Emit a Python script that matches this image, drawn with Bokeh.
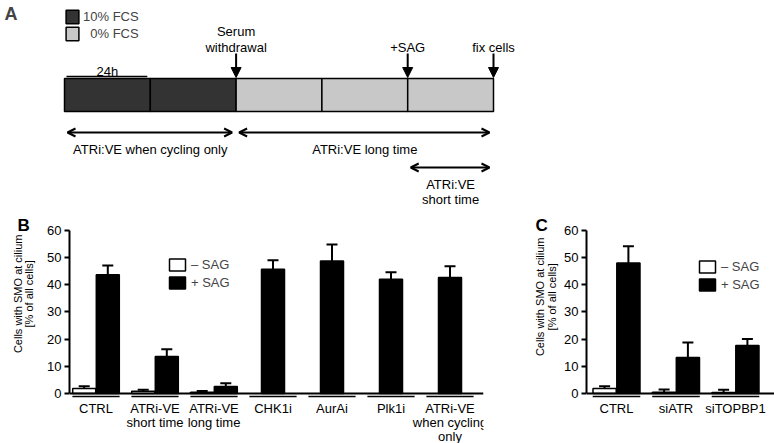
import numpy as np
from bokeh.plotting import figure
from bokeh.layouts import column, row
from bokeh.models import (Range1d, ColumnDataSource, Whisker, TeeHead, Arrow, NormalHead,
                          OpenHead, Label, Span, FixedTicker, Legend, LegendItem)
from bokeh.embed import file_html
from bokeh.resources import INLINE
from bokeh.core.properties import value

FONT = "Liberation Sans"

# ---------------- data: panel A (timeline, hours) ----------------
phase_labels = ["10% FCS", "10% FCS", "0% FCS", "0% FCS", "0% FCS"]
phase_hours = [24, 24, 24, 24, 24]
phase_colors = {"10% FCS": "#333333", "0% FCS": "#c8c8c8"}
event_labels = ["Serum\nwithdrawal", "+SAG", "fix cells"]
event_hours = [48, 96, 120]
window_labels = ["ATRi:VE when cycling only", "ATRi:VE long time", "ATRi:VE\nshort time"]
window_start = [0, 48, 96]
window_end = [48, 120, 120]
scale_label = "24h"
scale_hours = 24

# ---------------- data: panel B ----------------
groups_B = ["CTRL", "ATRi-VE\nshort time", "ATRi-VE\nlong time", "CHK1i", "AurAi", "Plk1i",
            "ATRi-VE\nwhen cycling\nonly"]
minus_B = [1.8, 0.8, 0.5, None, None, None, None]
minus_err_B = [0.9, 0.6, 0.4, None, None, None, None]
plus_B = [43.6, 13.6, 2.6, 45.6, 48.6, 41.9, 42.6]
plus_err_B = [3.4, 2.6, 1.2, 3.3, 6.1, 2.6, 4.1]

# ---------------- data: panel C ----------------
groups_C = ["CTRL", "siATR", "siTOPBP1"]
minus_C = [1.8, 0.5, 0.4]
minus_err_C = [0.9, 1.0, 1.0]
plus_C = [47.9, 13.2, 17.6]
plus_err_C = [6.1, 5.5, 2.4]

y_ticks = [0, 10, 20, 30, 40, 50, 60]
legend_labels = ["\u2013 SAG", "+ SAG"]
y_label_lines = ["Cells with SMO at cilium", "[% of all cells]"]


def style_blank(p):
    p.grid.visible = False
    p.outline_line_color = None
    p.background_fill_color = "white"
    p.border_fill_color = "white"


# ================= Panel A =================
W = 774
HA = 213
PX_H = 3.575      # px per hour
XA0 = 64          # px where the timeline starts
pA = figure(width=W, height=HA, title=None, output_backend="svg", toolbar_location=None,
            x_range=Range1d(-XA0 / PX_H, (W - XA0) / PX_H), y_range=Range1d(HA, 0),
            x_axis_location=None, y_axis_location=None, min_border=0)
style_blank(pA)

BAR_TOP, BAR_BOT = 78, 111
lefts = np.concatenate([[0], np.cumsum(phase_hours)[:-1]])
rights = lefts + np.array(phase_hours)
srcP = ColumnDataSource(dict(left=lefts, right=rights, phase=phase_labels,
                             color=[phase_colors[k] for k in phase_labels]))
rA = pA.quad(left="left", right="right", top=BAR_TOP, bottom=BAR_BOT, fill_color="color",
             line_color="black", line_width=1.5, source=srcP)

# legend: one entry per phase, numbers right-aligned with figure spaces
legend_names = list(dict.fromkeys(phase_labels))
num_len = max(len(nm.split("%")[0]) for nm in legend_names)
items = [LegendItem(label="\u2007" * (num_len - len(nm.split("%")[0])) + nm,
                    renderers=[rA], index=phase_labels.index(nm)) for nm in legend_names]
legA = Legend(items=items, location=(XA0, HA - 42), padding=0, margin=0, spacing=0,
              glyph_width=16, glyph_height=17, label_height=17, label_standoff=3,
              label_text_font=FONT, label_text_font_size="13px",
              border_line_color=None, background_fill_alpha=0)
pA.add_layout(legA)

# 24h scale bar
pA.segment(x0=[2 / PX_H], x1=[scale_hours - 3 / PX_H], y0=[76], y1=[76],
           line_color="black", line_width=1.5)
pA.text(x=[scale_hours / 2], y=[71], text=[scale_label], text_align="center",
        text_baseline="alphabetic", text_font=value(FONT), text_font_size="13px")

# events
srcE = ColumnDataSource(dict(x=event_hours, label=event_labels))
pA.add_layout(Arrow(end=NormalHead(size=10, fill_color="black", line_color="black", line_width=1),
                    x_start="x", y_start=53, x_end="x", y_end=77,
                    line_width=2, line_color="black", source=srcE))
pA.text(x="x", y=54, text="label", source=srcE, text_align="center", text_baseline="bottom",
        text_font=value(FONT), text_font_size="13px", text_line_height=1.05)

# treatment windows: greedy row assignment
rows = []
win_row = []
for s, e in zip(window_start, window_end):
    r = 0
    while r < len(rows) and any(s < e2 and s2 < e for s2, e2 in rows[r]):
        r += 1
    if r == len(rows):
        rows.append([])
    rows[r].append((s, e))
    win_row.append(r)
ROW_Y0, ROW_DY = 132, 35
win_y = [ROW_Y0 + ROW_DY * r for r in win_row]
srcW = ColumnDataSource(dict(xs=[s + 3 / PX_H for s in window_start],
                             xe=[e - 4 / PX_H for e in window_end],
                             y=win_y, ty=[y + 9 for y in win_y],
                             xm=[(s + e) / 2 for s, e in zip(window_start, window_end)],
                             label=window_labels))
pA.add_layout(Arrow(start=OpenHead(size=8, line_width=2, line_color="black"),
                    end=OpenHead(size=8, line_width=2, line_color="black"),
                    x_start="xs", y_start="y", x_end="xe", y_end="y",
                    line_width=2, line_color="black", source=srcW))
pA.text(x="xm", y="ty", text="label", source=srcW, text_align="center", text_baseline="top",
        text_font=value(FONT), text_font_size="13px", text_line_height=1.0)

pA.add_layout(Label(x=4, y=HA - 3, x_units="screen", y_units="screen", text="A",
                    text_font=FONT, text_font_style="bold", text_font_size="18px",
                    text_baseline="top", text_align="left"))

# ================= Panels B and C =================
PX_U = 2.725      # px per % unit
HBC = 443 - HA
ZERO_Y = 180      # px from top of B/C figures to y = 0
FTOP = 2
DODGE = 0.2
BAR_W = 0.39


def label_fig(width, letter, letter_x, ylab_x, ylab_y):
    p = figure(width=width, height=HBC, title=None, output_backend="svg", toolbar_location=None,
               x_range=Range1d(0, width), y_range=Range1d(HBC, 0),
               x_axis_location=None, y_axis_location=None, min_border=0)
    style_blank(p)
    p.text(x=[letter_x], y=[1], text=[letter], text_align="left", text_baseline="top",
           text_font=value(FONT), text_font_style="bold", text_font_size="17px")
    p.text(x=ylab_x, y=[ylab_y] * len(ylab_x), text=y_label_lines, angle=np.pi / 2,
           text_align="center", text_baseline="middle", text_font=value(FONT),
           text_font_size="11px")
    return p


def bar_panel(groups, minus, minus_err, plus, plus_err, width, fl, fr, group_px,
              first_center_px, legend_xy):
    frame_w = width - fl - fr
    xs = -first_center_px / group_px
    xe = xs + frame_w / group_px
    ye = (ZERO_Y - FTOP) / PX_U
    ys = ye - (HBC - FTOP) / PX_U
    p = figure(width=width, height=HBC, title=None, output_backend="svg", toolbar_location=None,
               x_range=Range1d(xs, xe), y_range=Range1d(ys, ye),
               x_axis_location=None, y_axis_location="left",
               min_border_left=fl, min_border_right=fr, min_border_top=FTOP, min_border_bottom=0)
    style_blank(p)
    ax = p.yaxis[0]
    ax.ticker = FixedTicker(ticks=y_ticks)
    ax.bounds = (min(y_ticks), max(y_ticks))
    ax.axis_line_width = 2
    ax.axis_line_color = "black"
    ax.major_tick_line_width = 2
    ax.major_tick_line_color = "black"
    ax.major_tick_in = 0
    ax.major_tick_out = 5
    ax.minor_tick_line_color = None
    ax.major_label_text_font = FONT
    ax.major_label_text_font_size = "13px"
    ax.major_label_text_color = "black"
    ax.major_label_standoff = 3

    n = len(groups)
    idx_m = [i for i in range(n) if minus[i] is not None]
    src_m = ColumnDataSource(dict(x=[i - DODGE for i in idx_m],
                                  top=[minus[i] for i in idx_m],
                                  upper=[minus[i] + minus_err[i] for i in idx_m]))
    src_p = ColumnDataSource(dict(x=[i + DODGE if minus[i] is not None else i for i in range(n)],
                                  top=plus,
                                  upper=[a + b for a, b in zip(plus, plus_err)]))
    for src in (src_m, src_p):
        p.add_layout(Whisker(base="x", lower="top", upper="upper", source=src, dimension="height",
                             line_width=2, line_color="black", lower_head=None,
                             upper_head=TeeHead(size=11, line_width=2, line_color="black")))
    p.vbar(x="x", top="top", bottom=0, width=BAR_W, fill_color="white", line_color="black",
           line_width=1.5, source=src_m, legend_label=legend_labels[0])
    p.vbar(x="x", top="top", bottom=0, width=BAR_W, fill_color="black", line_color="black",
           line_width=1.5, source=src_p, legend_label=legend_labels[1])

    p.add_layout(Span(location=0, dimension="width", line_color="black", line_width=2))
    uy = -3 / PX_U
    p.segment(x0=[i - 0.4 for i in range(n)], x1=[i + 0.4 for i in range(n)],
              y0=[uy] * n, y1=[uy] * n, line_color="black", line_width=1.5)
    p.text(x=list(range(n)), y=[-7 / PX_U] * n, text=groups, text_align="center",
           text_baseline="top", text_font=value(FONT), text_font_size="13px",
           text_line_height=0.96)

    leg = p.legend[0]
    leg.location = legend_xy
    leg.padding = 0
    leg.margin = 0
    leg.spacing = 3
    leg.glyph_width = 20
    leg.glyph_height = 15
    leg.label_height = 15
    leg.label_standoff = 4
    leg.label_text_font = FONT
    leg.label_text_font_size = "13px"
    leg.border_line_color = None
    leg.background_fill_alpha = 0
    return p


pBL = label_fig(40, "B", 17, [17, 28.5], 79)
pB = bar_panel(groups_B, minus_B, minus_err_B, plus_B, plus_err_B, width=490, fl=29, fr=47,
               group_px=59, first_center_px=26.5, legend_xy=(98, 153))
pCL = label_fig(30, "C", 5, [9.5, 21], 82)
pC = bar_panel(groups_C, minus_C, minus_err_C, plus_C, plus_err_C, width=214, fl=26, fr=0,
               group_px=59.5, first_center_px=30, legend_xy=(111, 151))

layout = column(pA, row(pBL, pB, pCL, pC))
open("out.html", "w").write(file_html(layout, INLINE))
